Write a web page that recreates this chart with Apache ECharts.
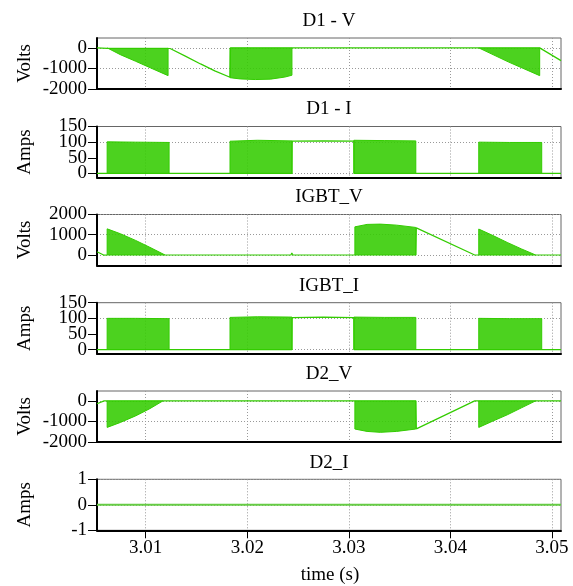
<!DOCTYPE html>
<html>
<head>
<meta charset="utf-8">
<script src="https://cdn.jsdelivr.net/npm/echarts@6/dist/echarts.min.js"></script>
<style>
  html, body { margin: 0; padding: 0; background: #fff; }
  #chart { width: 573px; height: 586px; }
</style>
</head>
<body>
<div id="chart"></div>
<script>
// time axis (s)
const tMin = 3.0052
const tMax = 3.0509
const timeTicks = [3.01, 3.02, 3.03, 3.04, 3.05]

const panelTitles = ['D1 - V', 'D1 - I', 'IGBT_V', 'IGBT_I', 'D2_V', 'D2_I']
const panelUnits = ['Volts', 'Amps', 'Volts', 'Amps', 'Volts', 'Amps']
const yMins = [-2000, -13, -520, -13, -2000, -1]
const yMaxs = [480, 150, 2000, 150, 480, 1]
const yTicks = [
  [-2000, -1000, 0],
  [0, 50, 100, 150],
  [0, 1000, 2000],
  [0, 50, 100, 150],
  [-2000, -1000, 0],
  [-1, 0, 1],
]

// continuous part of each trace [time, value]
const d1vTrace = [[3.0052, 0], [3.0062, -20], [3.0124, -30], [3.0139, -400], [3.0154, -780], [3.0168, -1120], [3.0183, -1430], [3.01835, 0], [3.0488, 0], [3.04885, -80], [3.0509, -620]]
const d1iTrace = [[3.0052, 0], [3.0244, 0], [3.02442, 103], [3.0275, 104], [3.0305, 103], [3.03052, 0], [3.0509, 0]]
const igbtvTrace = [[3.0052, 160], [3.0059, -10], [3.0062, 0], [3.0243, 0], [3.02439, 100], [3.0245, 0], [3.0366, 0], [3.03665, 1340], [3.0424, 0], [3.0509, 0]]
const igbtiTrace = [[3.0052, 0], [3.0244, 0], [3.02442, 102], [3.0275, 104], [3.0305, 102], [3.03052, 0], [3.0509, 0]]
const d2vTrace = [[3.0052, -140], [3.0059, 0], [3.0243, 0], [3.02439, -80], [3.0245, 0], [3.0366, 0], [3.03665, -1360], [3.0424, 0], [3.0509, 0]]
const d2iTrace = [[3.0052, 0], [3.0509, 0]]

// switching bursts: envelope of the pulse tips [time, value], pulses start from 0
const d1vBursts = [
  [[3.0062, -40], [3.0075, -330], [3.0090, -650], [3.0105, -980], [3.0122, -1350]],
  [[3.0183, -1450], [3.0193, -1510], [3.0208, -1540], [3.0223, -1520], [3.0237, -1420], [3.0244, -1330]],
  [[3.0428, -30], [3.0457, -680], [3.0488, -1350]],
]
const d1iBursts = [
  [[3.0062, 101], [3.0090, 100], [3.0123, 99]],
  [[3.0183, 103], [3.0210, 106], [3.0244, 104]],
  [[3.0305, 106], [3.0335, 105], [3.0366, 104]],
  [[3.0428, 100], [3.0458, 99], [3.0490, 99]],
]
const igbtvBursts = [
  [[3.0062, 1290], [3.0075, 1050], [3.0090, 720], [3.0104, 380], [3.0119, 0]],
  [[3.0306, 1390], [3.0318, 1510], [3.0331, 1525], [3.0347, 1475], [3.0366, 1360]],
  [[3.0428, 1280], [3.0442, 960], [3.0456, 620], [3.0470, 300], [3.0484, 0]],
]
const igbtiBursts = [
  [[3.0062, 100], [3.0090, 100], [3.0123, 99]],
  [[3.0183, 103], [3.0210, 105], [3.0244, 104]],
  [[3.0305, 104], [3.0335, 103], [3.0366, 103]],
  [[3.0428, 100], [3.0458, 99], [3.0490, 99]],
]
const d2vBursts = [
  [[3.0062, -1290], [3.0075, -1050], [3.0090, -730], [3.0104, -380], [3.0117, 0]],
  [[3.0306, -1370], [3.0318, -1485], [3.0331, -1530], [3.0347, -1485], [3.0366, -1370]],
  [[3.0428, -1290], [3.0442, -980], [3.0456, -680], [3.0470, -340], [3.0484, 0]],
]

const traces = [d1vTrace, d1iTrace, igbtvTrace, igbtiTrace, d2vTrace, d2iTrace]
const bursts = [d1vBursts, d1iBursts, igbtvBursts, igbtiBursts, d2vBursts, []]

const GREEN = '#33cc00'
const FONT = 'Liberation Serif'
const gridTops = [38, 126.5, 214.5, 302.7, 391, 479.3]
const gridH = 51

const chart = echarts.init(document.getElementById('chart'))

const grids = gridTops.map((top) => ({
  left: 97, right: 12, top: top, height: gridH,
  show: true, borderColor: '#666', borderWidth: 1,
}))

const xAxes = gridTops.map((_, i) => {
  const last = i === gridTops.length - 1
  return {
    type: 'value', gridIndex: i, min: tMin, max: tMax, splitNumber: 5,
    axisLine: { onZero: false, lineStyle: { color: '#000', width: 2 } },
    axisTick: { show: last, length: 8, customValues: timeTicks, lineStyle: { color: '#000' } },
    axisLabel: {
      show: last, customValues: timeTicks, margin: 8,
      formatter: (v) => v.toFixed(2),
      fontFamily: FONT, fontSize: 19, color: '#000',
    },
    splitLine: { show: true, lineStyle: { color: '#999', type: [1, 2], width: 1 } },
  }
})

const yAxisOf = (i, values, extra) => ({
  type: 'value', gridIndex: i, min: yMins[i], max: yMaxs[i], splitNumber: 3,
  position: 'left', offset: 0,
  axisLine: { show: !extra, onZero: false, lineStyle: { color: '#000', width: 2 } },
  axisTick: { show: true, length: 9, customValues: values, lineStyle: { color: '#000' } },
  axisLabel: {
    customValues: values, margin: 10,
    showMinLabel: true, showMaxLabel: true,
    formatter: (v) => String(v),
    fontFamily: FONT, fontSize: 19, color: '#000',
  },
  splitLine: { show: !extra, lineStyle: { color: '#999', type: [1, 2], width: 1 } },
})

// closely spaced labels get split over two stacked axes so none is dropped
const yAxes = gridTops.map((_, i) => {
  const v = yTicks[i]
  return yAxisOf(i, v.length > 3 ? v.filter((_, k) => k % 2 === 0) : v, false)
})
gridTops.forEach((_, i) => {
  const v = yTicks[i]
  if (v.length > 3) yAxes.push(yAxisOf(i, v.filter((_, k) => k % 2 === 1), true))
})

const series = []
traces.forEach((trace, i) => {
  series.push({
    type: 'line', xAxisIndex: i, yAxisIndex: i, data: trace,
    showSymbol: false, silent: true, z: 3,
    lineStyle: { color: i === 5 ? '#66cc44' : GREEN, width: i === 5 ? 2 : 1.2 },
  })
  bursts[i].forEach((env) => {
    const data = [[env[0][0], 0]].concat(env, [[env[env.length - 1][0], 0]])
    series.push({
      type: 'line', xAxisIndex: i, yAxisIndex: i, data: data,
      showSymbol: false, silent: true, z: 2,
      lineStyle: { color: GREEN, width: 1 },
      areaStyle: { color: GREEN, opacity: 0.88, origin: 0 },
    })
  })
})

const titleCenters = [20.7, 109, 197.5, 286, 374.5, 463]
const graphics = []
panelTitles.forEach((t, i) => {
  graphics.push({
    type: 'text', x: 329, y: titleCenters[i],
    style: { text: t, fontFamily: FONT, fontSize: 19, fill: '#000', align: 'center', verticalAlign: 'middle' },
  })
  graphics.push({
    type: 'text', x: 25, y: gridTops[i] + gridH / 2, rotation: Math.PI / 2,
    style: { text: panelUnits[i], fontFamily: FONT, fontSize: 19, fill: '#000', align: 'center', verticalAlign: 'middle' },
  })
})
graphics.push({
  type: 'text', x: 330, y: 575,
  style: { text: 'time (s)', fontFamily: FONT, fontSize: 19, fill: '#000', align: 'center', verticalAlign: 'middle' },
})

chart.setOption({
  animation: false,
  backgroundColor: '#fff',
  grid: grids,
  xAxis: xAxes,
  yAxis: yAxes,
  series: series,
  graphic: graphics,
})
</script>
</body>
</html>
